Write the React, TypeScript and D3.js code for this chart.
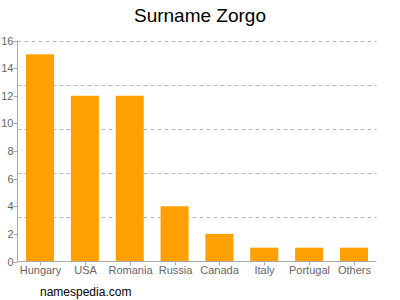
import React from "react";
import * as d3 from "d3";

const categories = ["Hungary", "USA", "Romania", "Russia", "Canada", "Italy", "Portugal", "Others"];
const values = [15, 12, 12, 4, 2, 1, 1, 1];
const yTicks = [0, 2, 4, 6, 8, 10, 12, 14, 16];
const gridValues = [3.2, 6.4, 9.6, 12.8, 16];

const W = 400, H = 300;
const left = 17.5, right = 376.5, top = 40.5, bottom = 261.5;
const font = "'Liberation Sans', Arial, sans-serif";

export default function App() {
  const x = d3.scaleBand<string>().domain(categories).range([left, right]).paddingInner(0.375).paddingOuter(0.19);
  const y = d3.scaleLinear().domain([0, 16]).range([bottom, top]);
  return (
    <svg width={W} height={H} style={{ position: "absolute", left: 0, top: 0 }}>
      <rect width={W} height={H} fill="#fff" />
      <text x={200} y={22} textAnchor="middle" fontFamily={font} fontSize={19} fill="#000">Surname Zorgo</text>
      {gridValues.map((g) => (
        <line key={g} x1={left} x2={right} y1={Math.round(y(g)) + 0.5} y2={Math.round(y(g)) + 0.5} stroke="#bbb" strokeDasharray="4,3" />
      ))}
      {categories.map((c, i) => (
        <rect key={c} x={x(c)} y={y(values[i])} width={x.bandwidth()} height={bottom - y(values[i])} fill="#ffa000" />
      ))}
      <line x1={left} x2={left} y1={top} y2={bottom} stroke="#aaa" />
      <line x1={left} x2={right} y1={bottom} y2={bottom} stroke="#aaa" />
      {yTicks.map((t) => (
        <g key={t}>
          <line x1={left - 4} x2={left} y1={Math.round(y(t)) + 0.5} y2={Math.round(y(t)) + 0.5} stroke="#aaa" />
          <text x={left - 4} y={y(t) + 4} textAnchor="end" fontFamily={font} fontSize={11} fill="#666">{t}</text>
        </g>
      ))}
      {categories.map((c) => {
        const cx = Math.round(x(c)! + x.bandwidth() / 2) + 0.5;
        return (
          <g key={c}>
            <line x1={cx} x2={cx} y1={bottom} y2={bottom + 4} stroke="#aaa" />
            <text x={cx} y={274} textAnchor="middle" fontFamily={font} fontSize={11} fill="#666">{c}</text>
          </g>
        );
      })}
      <text x={40} y={296} fontFamily={font} fontSize={12} fill="#000">namespedia.com</text>
    </svg>
  );
}
